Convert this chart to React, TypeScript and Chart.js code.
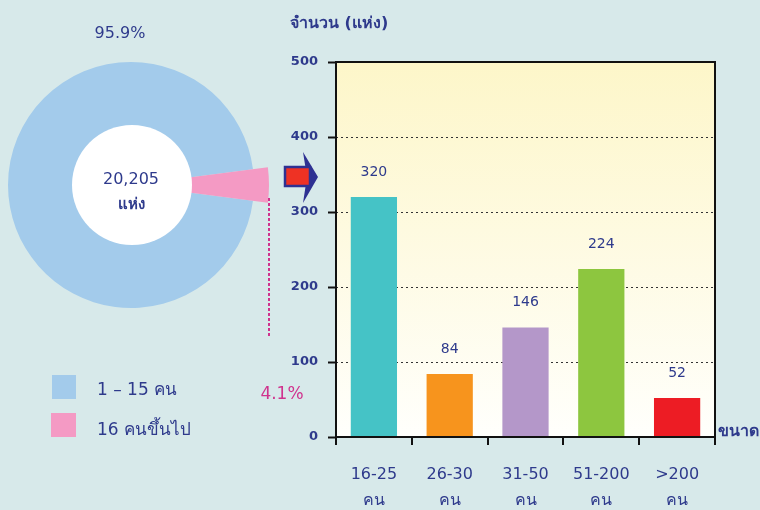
import React, { useEffect, useRef } from 'react';
import { Chart, registerables } from 'chart.js';

Chart.register(...registerables);

// ---- data ----
const sizeCategories = [
  ['16-25', 'คน'],
  ['26-30', 'คน'],
  ['31-50', 'คน'],
  ['51-200', 'คน'],
  ['>200', 'คน'],
];
const sizeCounts = [320, 84, 146, 224, 52];
const barColors = ['#45C3C6', '#F7941D', '#B497C9', '#8DC63F', '#ED1C24'];
const yMin = 0;
const yMax = 500;
const yStep = 100;

const shareLabels = ['1 – 15 คน', '16 คนขึ้นไป'];
const shareValues = [95.9, 4.1];
const sharePercentLabels = ['95.9%', '4.1%'];
const shareColors = ['#A3CBEB', '#F49AC4'];
const totalLabel = ['20,205', 'แห่ง'];
const yAxisTitle = 'จำนวน (แห่ง)';
const xAxisTitle = 'ขนาด';

const NAVY = '#2E3A8C';
const MAGENTA = '#D0338E';
const FONT = "Tahoma, 'DejaVu Sans', 'Noto Sans', sans-serif";

const pieExtras = {
  id: 'pieExtras',
  afterDatasetsUpdate(chart: any) {
    const meta = chart.getDatasetMeta(0);
    const pink = meta.data[1];
    if (pink) pink.outerRadius = pink.outerRadius + 15;
  },
  afterDatasetsDraw(chart: any) {
    const meta = chart.getDatasetMeta(0);
    const arc = meta.data[0];
    if (!arc) return;
    const { ctx } = chart;
    const { x, y } = arc;
    ctx.save();
    ctx.fillStyle = '#FFFFFF';
    ctx.beginPath();
    ctx.arc(x + 1, y, 60, 0, Math.PI * 2);
    ctx.fill();
    ctx.fillStyle = NAVY;
    ctx.textAlign = 'center';
    ctx.textBaseline = 'middle';
    ctx.font = `16px ${FONT}`;
    ctx.fillText(totalLabel[0], x, y - 5);
    ctx.font = `bold 15px ${FONT}`;
    ctx.fillText(totalLabel[1], x, y + 20);
    ctx.restore();
  },
};

const barExtras = {
  id: 'barExtras',
  beforeDraw(chart: any) {
    const { ctx, chartArea: a } = chart;
    if (!a) return;
    ctx.save();
    const g = ctx.createLinearGradient(0, a.top, 0, a.bottom);
    g.addColorStop(0, '#FDF6C9');
    g.addColorStop(1, '#FFFFFC');
    ctx.fillStyle = g;
    ctx.fillRect(a.left, a.top, a.right - a.left, a.bottom - a.top);
    ctx.restore();
  },
  afterDatasetsDraw(chart: any) {
    const { ctx } = chart;
    const meta = chart.getDatasetMeta(0);
    ctx.save();
    ctx.fillStyle = NAVY;
    ctx.textAlign = 'center';
    ctx.textBaseline = 'middle';
    ctx.font = `14px ${FONT}`;
    meta.data.forEach((bar: any, i: number) => {
      ctx.fillText(String(sizeCounts[i]), bar.x, bar.y - 25);
    });
    ctx.restore();
  },
  afterDraw(chart: any) {
    const { ctx, chartArea: a } = chart;
    ctx.save();
    ctx.strokeStyle = '#111';
    ctx.lineWidth = 2;
    ctx.strokeRect(a.left, a.top, a.right - a.left, a.bottom - a.top);
    ctx.restore();
  },
};

export default function App() {
  const pieRef = useRef<HTMLCanvasElement | null>(null);
  const barRef = useRef<HTMLCanvasElement | null>(null);

  useEffect(() => {
    const pie = new Chart(pieRef.current as HTMLCanvasElement, {
      type: 'pie',
      data: {
        labels: shareLabels,
        datasets: [
          {
            data: shareValues,
            backgroundColor: shareColors,
            borderWidth: 0,
          },
        ],
      },
      options: {
        animation: false,
        responsive: true,
        maintainAspectRatio: false,
        rotation: 97.38,
        layout: { padding: { left: 8, top: 14, right: 26, bottom: 14 } },
        plugins: { legend: { display: false }, tooltip: { enabled: false } },
        events: [],
      },
      plugins: [pieExtras],
    });

    const bar = new Chart(barRef.current as HTMLCanvasElement, {
      type: 'bar',
      data: {
        labels: sizeCategories,
        datasets: [
          {
            data: sizeCounts,
            backgroundColor: barColors,
            borderWidth: 0,
            barPercentage: 0.61,
            categoryPercentage: 1,
          },
        ],
      },
      options: {
        animation: false,
        responsive: true,
        maintainAspectRatio: false,
        layout: { padding: { left: 0, top: 62, right: 45, bottom: 0 } },
        plugins: { legend: { display: false }, tooltip: { enabled: false } },
        events: [],
        scales: {
          x: {
            afterFit: (s: any) => {
              s.height = 73;
            },
            grid: {
              offset: true,
              drawOnChartArea: false,
              drawTicks: true,
              tickLength: 8,
              tickColor: '#111',
              tickWidth: 2,
              color: '#111',
              lineWidth: 2,
            },
            border: { display: false },
            ticks: {
              color: NAVY,
              font: { family: FONT, size: 16, lineHeight: 1.6 },
              padding: 17,
              maxRotation: 0,
              autoSkip: false,
            },
          },
          y: {
            min: yMin,
            max: yMax,
            afterFit: (s: any) => {
              s.width = 66;
            },
            grid: {
              drawTicks: true,
              tickLength: 8,
              tickColor: '#111',
              tickWidth: 2,
              tickBorderDash: [],
              lineWidth: 1,
              color: (c: any) =>
                c.tick && (c.tick.value === yMin || c.tick.value === yMax)
                  ? 'rgba(0,0,0,0)'
                  : '#333',
            },
            border: { display: false, dash: [2, 3] },
            ticks: {
              stepSize: yStep,
              color: NAVY,
              padding: 10,
              font: { family: FONT, size: 13, weight: 'bold' },
            },
          },
        },
      },
      plugins: [barExtras],
    });

    return () => {
      pie.destroy();
      bar.destroy();
    };
  }, []);

  const abs = (x: number, y: number, extra: React.CSSProperties = {}): React.CSSProperties => ({
    position: 'absolute',
    left: x,
    top: y,
    whiteSpace: 'nowrap',
    ...extra,
  });

  return (
    <div
      style={{
        position: 'fixed',
        left: 0,
        top: 0,
        width: 760,
        height: 510,
        background: '#D7E9EA',
        overflow: 'hidden',
        fontFamily: FONT,
        color: NAVY,
      }}
    >
      <div style={{ position: 'absolute', left: 0, top: 48, width: 280, height: 274 }}>
        <canvas ref={pieRef} />
      </div>
      <div style={{ position: 'absolute', left: 270, top: 0, width: 490, height: 510 }}>
        <canvas ref={barRef} />
      </div>

      <svg
        width={760}
        height={510}
        style={{ position: 'absolute', left: 0, top: 0, pointerEvents: 'none' }}
      >
        <line
          x1={269}
          y1={198}
          x2={269}
          y2={338}
          stroke={MAGENTA}
          strokeWidth={2}
          strokeDasharray="3 2"
        />
        <polygon points="303,152 318,177 303,203 307,177" fill="#2E3192" />
        <rect x={285} y={167} width={25} height={19} fill="#EE3224" stroke="#2E3192" strokeWidth={2.5} />
      </svg>

      <div style={abs(120, 32, { transform: 'translate(-50%,-50%)', fontSize: 16 })}>
        {sharePercentLabels[0]}
      </div>
      <div style={abs(282, 393, { transform: 'translate(-50%,-50%)', fontSize: 17, color: MAGENTA })}>
        {sharePercentLabels[1]}
      </div>

      <div style={abs(52, 375, { width: 24, height: 24, background: shareColors[0] })} />
      <div style={abs(51, 413, { width: 25, height: 24, background: shareColors[1] })} />
      <div style={abs(97, 388, { transform: 'translateY(-50%)', fontSize: 17 })}>{shareLabels[0]}</div>
      <div style={abs(97, 428, { transform: 'translateY(-50%)', fontSize: 17 })}>{shareLabels[1]}</div>

      <div style={abs(290, 22, { transform: 'translateY(-50%)', fontSize: 16, fontWeight: 'bold' })}>
        {yAxisTitle}
      </div>
      <div style={abs(718, 430, { transform: 'translateY(-50%)', fontSize: 16, fontWeight: 'bold' })}>
        {xAxisTitle}
      </div>
    </div>
  );
}
